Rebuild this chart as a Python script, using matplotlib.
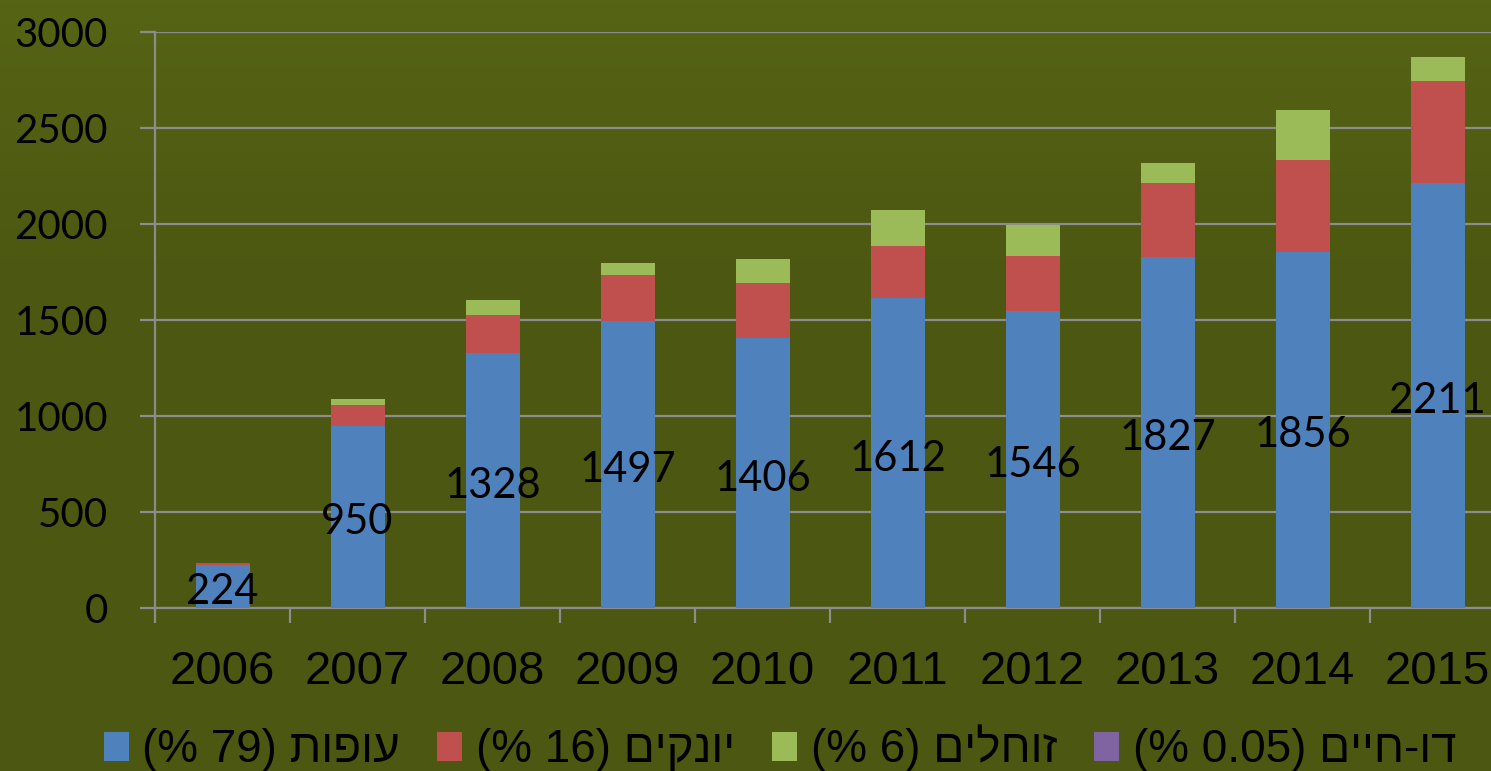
import matplotlib
matplotlib.use("Agg")
import matplotlib.pyplot as plt
from matplotlib.colors import LinearSegmentedColormap
import matplotlib.transforms as mtransforms
import numpy as np

# data
years = ["2006", "2007", "2008", "2009", "2010", "2011", "2012", "2013", "2014", "2015"]
birds = [224, 950, 1328, 1497, 1406, 1612, 1546, 1827, 1856, 2211]
mammals = [10, 107, 198, 237, 287, 273, 287, 387, 477, 532]
reptiles = [2, 31, 78, 63, 125, 188, 162, 104, 261, 125]
amphibians = [0, 1, 1, 1, 1, 1, 1, 1, 1, 1]

# legend labels (visual order, since matplotlib has no bidi)
labels = [
    "(% 79) " + "עופות"[::-1],
    "(% 16) " + "יונקים"[::-1],
    "(% 6) " + "זוחלים"[::-1],
    "(% 0.05) " + "דו-חיים"[::-1],
]
colors = ["#4f81bd", "#c0504d", "#9bbb59", "#8064a2"]
bg = "#4c5711"
grid = "#8c8c8c"

fig = plt.figure(figsize=(14.91, 7.71), dpi=100, facecolor=bg)

# slightly lighter band at the top of the slide background
bg_ax = fig.add_axes([0, 0, 1, 1], zorder=-1)
grad = np.linspace(0, 1, 256).reshape(-1, 1)
cmap = LinearSegmentedColormap.from_list("bg", ["#566415", "#4d5811", bg, bg])
bg_ax.imshow(grad, aspect="auto", cmap=cmap, extent=[0, 1, 0, 1], origin="upper")
bg_ax.axis("off")

ax = fig.add_axes([155 / 1491, 1 - 608 / 771, 1350 / 1491, 576 / 771])
ax.patch.set_alpha(0)

x = np.arange(len(years))
series = [birds, mammals, reptiles, amphibians]
bottom = np.zeros(len(years))
handles = []
for vals, col in zip(series, colors):
    b = ax.bar(x, vals, width=0.4, bottom=bottom, color=col, zorder=3)
    handles.append(b)
    bottom += np.array(vals)

shift = mtransforms.offset_copy(ax.transData, fig=fig, x=0, y=-4, units="points")
for xi, v in zip(x, birds):
    ax.text(xi, v / 2, str(v), ha="center", va="center", fontsize=30,
            family="Lato", color="black", zorder=4, transform=shift)

ax.set_xlim(-0.5, 9.5)
ax.set_ylim(0, 3000)
ax.set_yticks(range(0, 3001, 500))
ax.yaxis.grid(True, color=grid, lw=1.6, zorder=0)
ax.set_axisbelow(True)

ax.set_xticks(x)
ax.set_xticklabels(years, fontsize=34, family="Liberation Sans")
ax.set_xticks(np.arange(-0.5, 10, 1), minor=True)
ax.tick_params(axis="x", which="major", length=0, pad=30, colors="black")
ax.tick_params(axis="x", which="minor", length=11, width=1.6, color=grid)
ax.tick_params(axis="y", length=11, width=1.6, color=grid, labelsize=29, pad=23)
for t in ax.get_yticklabels():
    t.set_family("Lato")

for s in ["top", "right"]:
    ax.spines[s].set_visible(False)
for s in ["left", "bottom"]:
    ax.spines[s].set_color(grid)
    ax.spines[s].set_linewidth(1.6)

fig.legend(handles, labels, loc="center", bbox_to_anchor=(0.523, 0.029), ncol=4,
           frameon=False, prop={"family": "Liberation Sans", "size": 33},
           handlelength=0.55, handleheight=0.6, handletextpad=0.3, columnspacing=0.8)

fig.savefig("out.png", dpi=100, facecolor=bg)
